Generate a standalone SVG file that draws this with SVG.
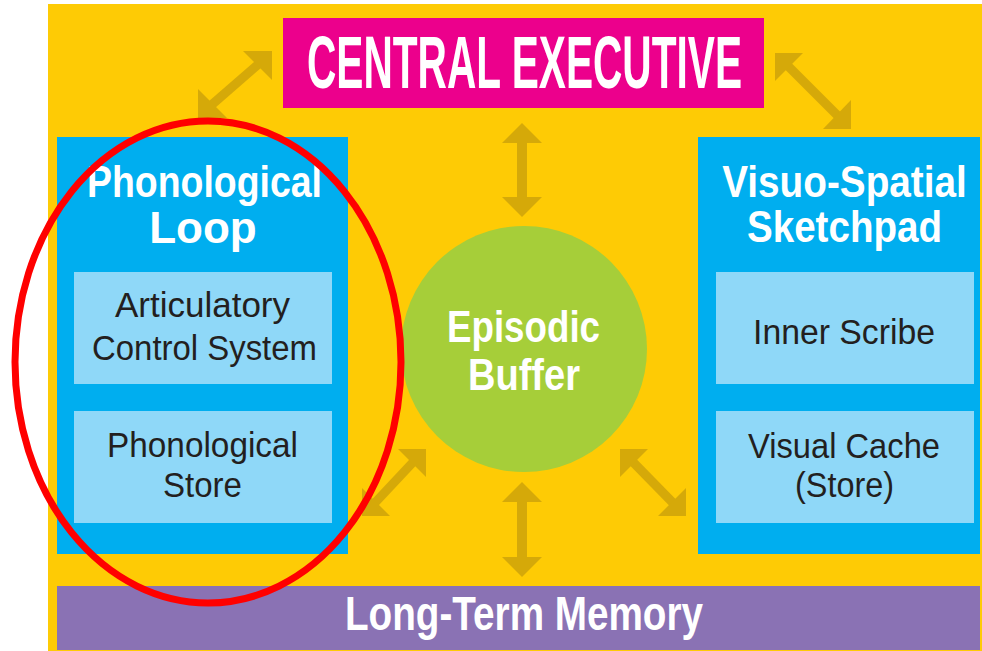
<svg xmlns="http://www.w3.org/2000/svg" width="982" height="651" viewBox="0 0 982 651">
<style>
.w{fill:#ffffff;font-family:"Liberation Sans",Arial,sans-serif;font-weight:bold;text-anchor:middle}
.d{fill:#231f20;font-family:"Liberation Sans",Arial,sans-serif;text-anchor:middle}
.arr{fill:#d5a909}
.sh{stroke:#d5a909;stroke-width:9;fill:none}
</style>
<rect x="0" y="0" width="982" height="651" fill="#ffffff"/>
<rect x="48" y="4" width="934" height="647" fill="#fecb05"/>
<g id="connectors">
  <line class="sh" x1="262" y1="61" x2="208" y2="108"/>
  <polygon class="arr" points="272,51 243,51 272,80"/>
  <polygon class="arr" points="198,118 227,118 198,89"/>
  <line class="sh" x1="785" y1="63" x2="841" y2="119"/>
  <polygon class="arr" points="775,53 803,53 775,81"/>
  <polygon class="arr" points="851,129 851,100 823,129"/>
  <rect class="arr" x="517" y="140" width="10" height="60"/>
  <polygon class="arr" points="522,123 542,143 502,143"/>
  <polygon class="arr" points="522,217 542,197 502,197"/>
  <rect class="arr" x="517" y="499" width="10" height="60"/>
  <polygon class="arr" points="522,482 542,502 502,502"/>
  <polygon class="arr" points="522,577 542,557 502,557"/>
  <line class="sh" x1="416" y1="459" x2="372" y2="506"/>
  <polygon class="arr" points="426,449 398,449 426,477"/>
  <polygon class="arr" points="362,516 362,488 390,516"/>
  <line class="sh" x1="630" y1="459" x2="676" y2="506"/>
  <polygon class="arr" points="620,449 648,449 620,477"/>
  <polygon class="arr" points="686,516 686,488 658,516"/>
</g>
<g id="central-executive">
  <rect x="283" y="18" width="481" height="90" fill="#ec008c"/>
  <text class="w" transform="translate(524.5,88) scale(0.55,1)" x="0" y="0" font-size="74" textLength="791" lengthAdjust="spacingAndGlyphs">CENTRAL EXECUTIVE</text>
</g>
<g id="phonological-loop">
  <rect x="57" y="137" width="291" height="417" fill="#00aeef"/>
  <text class="w" x="204.5" y="197" font-size="44" textLength="235" lengthAdjust="spacingAndGlyphs">Phonological</text>
  <text class="w" x="203" y="243" font-size="44">Loop</text>
</g>
<g id="articulatory-control-system">
  <rect x="74" y="272" width="258" height="112" fill="#8fd8f8"/>
  <text class="d" x="202.5" y="317" font-size="35" textLength="175" lengthAdjust="spacingAndGlyphs">Articulatory</text>
  <text class="d" x="204.5" y="360" font-size="35" textLength="225" lengthAdjust="spacingAndGlyphs">Control System</text>
</g>
<g id="phonological-store">
  <rect x="74" y="411" width="258" height="112" fill="#8fd8f8"/>
  <text class="d" x="202.5" y="457" font-size="35" textLength="191" lengthAdjust="spacingAndGlyphs">Phonological</text>
  <text class="d" x="202.5" y="497" font-size="35" textLength="79" lengthAdjust="spacingAndGlyphs">Store</text>
</g>
<g id="visuo-spatial-sketchpad">
  <rect x="698" y="137" width="282" height="417" fill="#00aeef"/>
  <text class="w" transform="translate(844.5,197) scale(0.88,1)" x="0" y="0" font-size="44" textLength="278" lengthAdjust="spacingAndGlyphs">Visuo-Spatial</text>
  <text class="w" x="844.5" y="242" font-size="44" textLength="195" lengthAdjust="spacingAndGlyphs">Sketchpad</text>
</g>
<g id="inner-scribe">
  <rect x="716" y="272" width="258" height="112" fill="#8fd8f8"/>
  <text class="d" x="844" y="344" font-size="35" textLength="182" lengthAdjust="spacingAndGlyphs">Inner Scribe</text>
</g>
<g id="visual-cache">
  <rect x="716" y="411" width="258" height="112" fill="#8fd8f8"/>
  <text class="d" x="844" y="458" font-size="35" textLength="192" lengthAdjust="spacingAndGlyphs">Visual Cache</text>
  <text class="d" x="844.5" y="497" font-size="35" textLength="99" lengthAdjust="spacingAndGlyphs">(Store)</text>
</g>
<g id="episodic-buffer">
  <circle cx="524" cy="349" r="123" fill="#a6ce39"/>
  <text class="w" x="523.5" y="342" font-size="44" textLength="153" lengthAdjust="spacingAndGlyphs">Episodic</text>
  <text class="w" x="524" y="390" font-size="44" textLength="112" lengthAdjust="spacingAndGlyphs">Buffer</text>
</g>
<g id="long-term-memory">
  <rect x="57" y="586" width="923" height="64" fill="#8a72b4"/>
  <text class="w" x="524" y="630" font-size="48" textLength="358" lengthAdjust="spacingAndGlyphs">Long-Term Memory</text>
</g>
<ellipse id="highlight" cx="208" cy="362" rx="193" ry="241" fill="none" stroke="#ff0000" stroke-width="7"/>
</svg>
